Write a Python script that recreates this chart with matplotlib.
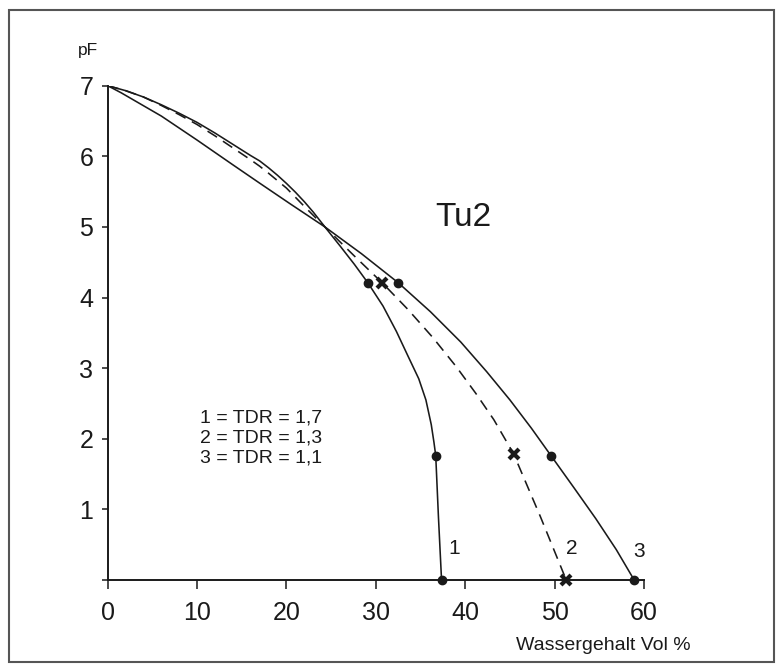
import matplotlib
matplotlib.use('Agg')
import matplotlib.pyplot as plt
from matplotlib.patches import Rectangle

plt.rcParams['font.family'] = ['Liberation Sans', 'DejaVu Sans']

# water content (Vol %) and pF for the three TDR readings
theta_1 = [0, 2, 4, 6, 8, 10, 12, 14, 16, 17, 18, 19, 20, 21, 22, 23, 24.3, 26, 27.6, 29.1,
           30.8, 32.3, 33.6, 34.8, 35.6, 36.2, 36.5, 36.7, 37.0, 37.35]
pf_1 = [7.0, 6.93, 6.84, 6.73, 6.61, 6.48, 6.33, 6.17, 6.01, 5.935, 5.837, 5.731, 5.616, 5.492, 5.357,
        5.21, 5.0, 4.73, 4.47, 4.21,
        3.88, 3.52, 3.17, 2.85, 2.55, 2.2, 1.95, 1.76, 0.9, 0.0]

theta_2 = [0, 2, 4, 6, 8, 10, 12, 14, 16, 17, 18, 20, 22, 24.3, 27.5, 30.7,
           33.6, 36.4, 39.0, 41.2, 43.2, 45.4, 48.4, 51.3]
pf_2 = [7.0, 6.93, 6.84, 6.72, 6.59, 6.45, 6.29, 6.12, 5.95, 5.86, 5.76, 5.55, 5.29, 5.0, 4.6, 4.21,
        3.83, 3.43, 3.02, 2.64, 2.27, 1.79, 0.9, 0.0]

theta_3 = [0, 1.5, 3, 4.5, 6, 8, 10, 14, 17, 20.5, 24.3, 28.4, 32.5, 36.1, 39.5, 42.4, 45.0, 47.4, 49.6,
           52.2, 54.6, 56.9, 58.9]
pf_3 = [7.0, 6.9, 6.79, 6.68, 6.57, 6.4, 6.23, 5.88, 5.62, 5.32, 5.0, 4.62, 4.21, 3.8, 3.37, 2.95, 2.55, 2.15, 1.76,
        1.3, 0.87, 0.43, 0.0]

# measured points
dot_theta = [29.1, 36.7, 37.35, 32.5, 49.6, 58.9]
dot_pf = [4.21, 1.76, 0.0, 4.21, 1.76, 0.0]
cross_theta = [30.7, 45.4, 51.3]
cross_pf = [4.21, 1.79, 0.0]

xticks = [0, 10, 20, 30, 40, 50, 60]
yticks = [0, 1, 2, 3, 4, 5, 6, 7]
ytick_labels = ['', '1', '2', '3', '4', '5', '6', '7']

ink = '#1a1a1a'

fig = plt.figure(figsize=(7.83, 6.72), dpi=100)
ax = fig.add_axes([107.7 / 783, 92 / 672, (644 - 107.7) / 783, (580 - 85.7) / 672])

ax.plot(theta_1, pf_1, color=ink, lw=1.15)
ax.plot(theta_2, pf_2, color=ink, lw=1.15, linestyle=(0, (7, 4.5)))
ax.plot(theta_3, pf_3, color=ink, lw=1.15)
ax.plot(dot_theta, dot_pf, 'o', color=ink, ms=6, clip_on=False)
ax.plot(cross_theta, cross_pf, 'x', color=ink, ms=7, mew=3, clip_on=False)

ax.set_xlim(0, 60)
ax.set_ylim(0, 7)
ax.set_xticks(xticks)
ax.set_yticks(yticks)
ax.set_yticklabels(ytick_labels)
ax.tick_params(axis='x', direction='out', length=6.5, width=1.1, pad=8.5, labelsize=18, colors=ink)
ax.tick_params(axis='y', direction='out', length=4.3, width=1.1, pad=6, labelsize=18, colors=ink)
for side in ['top', 'right']:
    ax.spines[side].set_visible(False)
for side in ['left', 'bottom']:
    ax.spines[side].set_linewidth(1.4)
    ax.spines[side].set_color(ink)

ax.text(-2.26, 7.44, 'pF', ha='center', va='baseline', fontsize=12.5, color=ink, clip_on=False)
ax.text(55.5, -0.99, 'Wassergehalt Vol %', ha='center', va='baseline', fontsize=14, color=ink, clip_on=False)
ax.text(36.6, 5.13, 'Tu2', ha='left', va='center', fontsize=24, color=ink)
ax.text(10.3, 2.01, '1 = TDR = 1,7\n2 = TDR = 1,3\n3 = TDR = 1,1', ha='left', va='center',
        fontsize=14, color=ink, linespacing=1.2)
ax.text(38.8, 0.45, '1', ha='center', va='center', fontsize=15, color=ink)
ax.text(51.9, 0.45, '2', ha='center', va='center', fontsize=15, color=ink)
ax.text(59.5, 0.40, '3', ha='center', va='center', fontsize=15, color=ink)

# grey frame round the whole figure
fig.patches.append(Rectangle((9.3 / 783, 9.7 / 672), (773.7 - 9.3) / 783, (662.3 - 9.7) / 672,
                             transform=fig.transFigure, fill=False, edgecolor='#555555', lw=1.5))

fig.savefig('out.png', dpi=100)
